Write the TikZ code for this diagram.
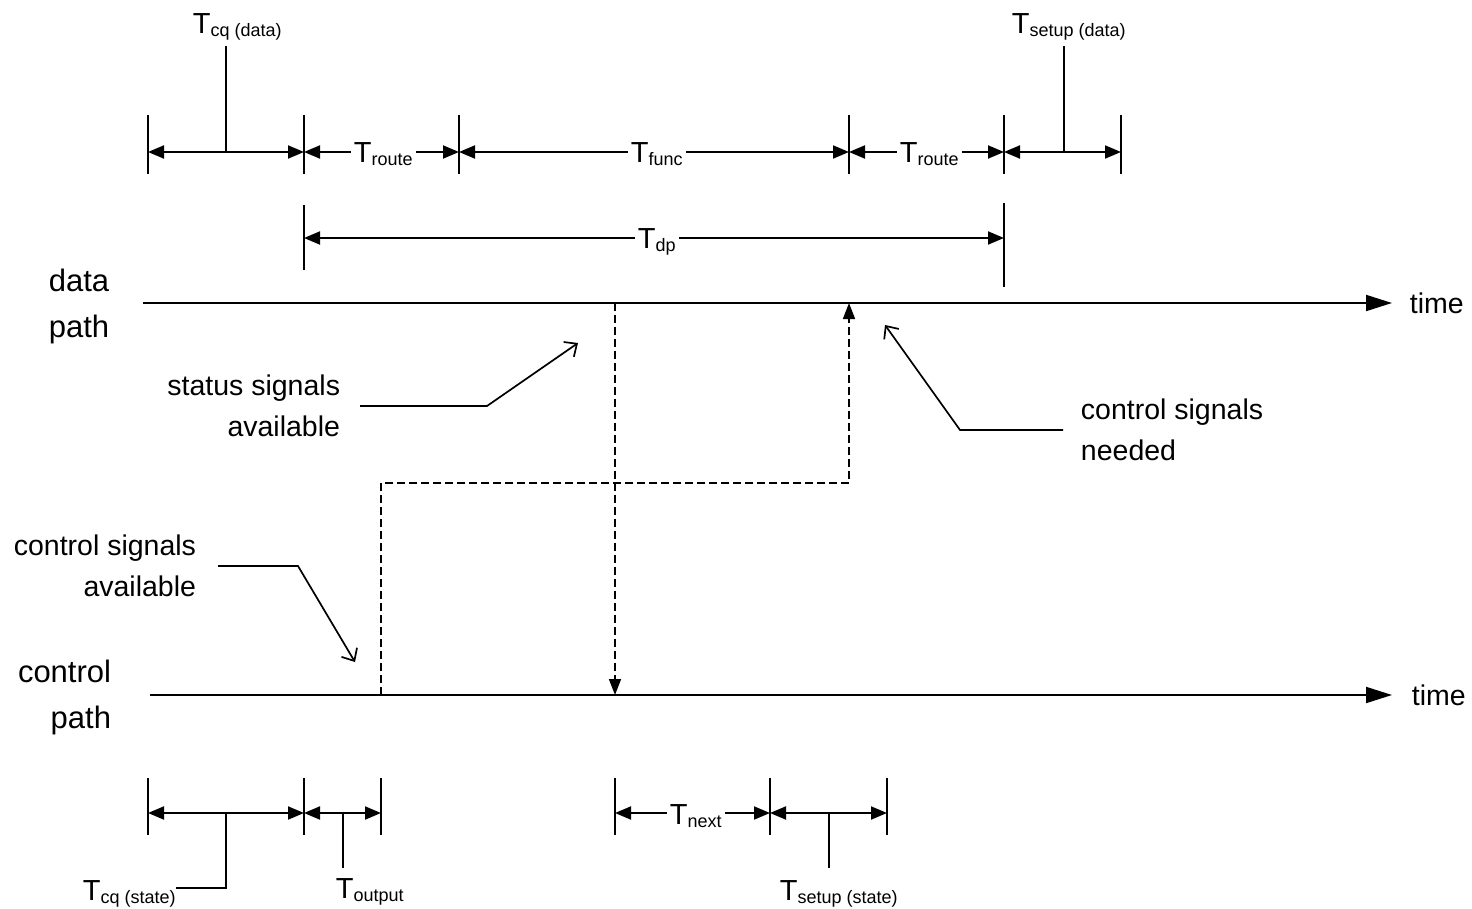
\documentclass[tikz,border=0pt]{standalone}
\usepackage{fontspec}
\setmainfont{Liberation Sans}
\usetikzlibrary{arrows.meta}
\newcommand{\Tlab}[1]{T\raisebox{-3pt}{\fontsize{18}{20}\selectfont #1}}
\begin{document}
\begin{tikzpicture}[x=1pt,y=-1pt,line width=1.9pt,
  txt/.style={font=\fontsize{28.5}{41}\selectfont, inner sep=0pt},
  bigtxt/.style={font=\fontsize{31}{46}\selectfont, inner sep=0pt},
  tlab/.style={font=\fontsize{29}{34}\selectfont, inner sep=0pt},
  onl/.style={tlab, fill=white, inner xsep=3pt, inner ysep=1pt},
  dim/.style={{Triangle[length=16pt,width=13pt]}-{Triangle[length=16pt,width=13pt]}},
  axis/.style={-{Triangle[length=26pt,width=16pt]}},
  tipd/.style={-{Triangle[length=16pt,width=12pt]}},
  lead/.style={-{Straight Barb[length=10pt,width=18pt]}, line width=1.7pt},
  dsh/.style={dash pattern=on 8pt off 4pt, line width=1.6pt}]
\useasboundingbox (0,0) rectangle (1472,909);

% ---------- top ticks ----------
\foreach \n/\x in {a/148,b/304,c/459,d/849,e/1004,f/1121}{
  \coordinate (t\n1) at (\x,115);
  \coordinate (t\n2) at (\x,174);
  \coordinate (m\n) at (\x,152);
  \draw (t\n1) -- (t\n2);
}
\coordinate (te3) at (1004,203); \coordinate (te4) at (1004,287);
\draw (te3) -- (te4);
\coordinate (tb3) at (304,205); \coordinate (tb4) at (304,270);
\draw (tb3) -- (tb4);
\coordinate (pb) at (304,238); \coordinate (pe) at (1004,238);

% dimension arrows (top)
\draw[dim] (ma) -- (mb);
\draw[dim] (mb) -- (mc);
\draw[dim] (mc) -- (md);
\draw[dim] (md) -- (me);
\draw[dim] (me) -- (mf);
\draw[dim] (pb) -- (pe);

\node[onl, anchor=base west] (troute1) at (350,163) {\Tlab{route}};
\node[onl, anchor=base west] (tfunc) at (627,163) {\Tlab{func}};
\node[onl, anchor=base west] (troute2) at (896,163) {\Tlab{route}};
\node[onl, anchor=base west] (tdp) at (634,249) {\Tlab{dp}};

% stems with labels (top)
\node[tlab, anchor=base west] (tcqd) at (192,34) {\Tlab{cq (data)}};
\node[tlab, anchor=base west] (tsud) at (1011,34) {\Tlab{setup (data)}};
\coordinate (s1) at (226,152); \coordinate (s1t) at (226,46);
\coordinate (s2) at (1064,152); \coordinate (s2t) at (1064,46);
\draw (s1) -- (s1t);
\draw (s2) -- (s2t);

% ---------- axes ----------
\coordinate (da0) at (143,303); \coordinate (da1) at (1392,303);
\coordinate (ca0) at (150,695); \coordinate (ca1) at (1392,695);
\draw[axis] (da0) -- (da1);
\draw[axis] (ca0) -- (ca1);
\node[txt, anchor=west] (time1) at (1409,303) {time};
\node[txt, anchor=west] (time2) at (1411,695) {time};
\node[bigtxt, align=center] (dpl) at (79,306) {data\\path};
\node[bigtxt, align=right, anchor=east] (cpl) at (112,697) {control\\path};

% ---------- dashed signal paths ----------
\coordinate (sd0) at (615,303); \coordinate (sd1) at (615,695);
\draw[dsh, tipd] (sd0) -- (sd1);
\coordinate (cu0) at (381,695); \coordinate (cu1) at (381,483);
\coordinate (cu2) at (849,483); \coordinate (cu3) at (849,303);
\draw[dsh, tipd] (cu0) -- (cu1) -- (cu2) -- (cu3);

% ---------- annotations ----------
\node[txt, align=right, anchor=east] (ssa) at (341,406) {status signals\\available};
\coordinate (l1a) at (360,406); \coordinate (l1b) at (487,406); \coordinate (l1c) at (578,343);
\draw[lead] (l1a) -- (l1b) -- (l1c);

\node[txt, align=left, anchor=west] (csn) at (1080,430) {control signals\\needed};
\coordinate (l2a) at (1063,430); \coordinate (l2b) at (960,430); \coordinate (l2c) at (885,325);
\draw[lead] (l2a) -- (l2b) -- (l2c);

\node[txt, align=right, anchor=east] (csa) at (197,566) {control signals\\available};
\coordinate (l3a) at (218,566); \coordinate (l3b) at (298,566); \coordinate (l3c) at (355,662);
\draw[lead] (l3a) -- (l3b) -- (l3c);

% ---------- bottom ticks ----------
\foreach \n/\x in {a/148,b/304,c/381,d/615,e/770,f/887}{
  \coordinate (u\n1) at (\x,778);
  \coordinate (u\n2) at (\x,835);
  \coordinate (n\n) at (\x,813);
  \draw (u\n1) -- (u\n2);
}
\draw[dim] (na) -- (nb);
\draw[dim] (nb) -- (nc);
\draw[dim] (nd) -- (ne);
\draw[dim] (ne) -- (nf);
\node[onl, anchor=base west] (tnext) at (666,824) {\Tlab{next}};

\node[tlab, anchor=base west] (tcqs) at (82,900) {\Tlab{cq (state)}};
\node[tlab, anchor=base west] (tout) at (335,898) {\Tlab{output}};
\node[tlab, anchor=base west] (tsus) at (779,900) {\Tlab{setup (state)}};
\coordinate (b1) at (226,813); \coordinate (b1c) at (226,888); \coordinate (b1e) at (176,888);
\draw (b1) -- (b1c) -- (b1e);
\coordinate (b2) at (343,813); \coordinate (b2e) at (343,868);
\draw (b2) -- (b2e);
\coordinate (b3) at (829,813); \coordinate (b3e) at (829,868);
\draw (b3) -- (b3e);
\end{tikzpicture}
\end{document}
